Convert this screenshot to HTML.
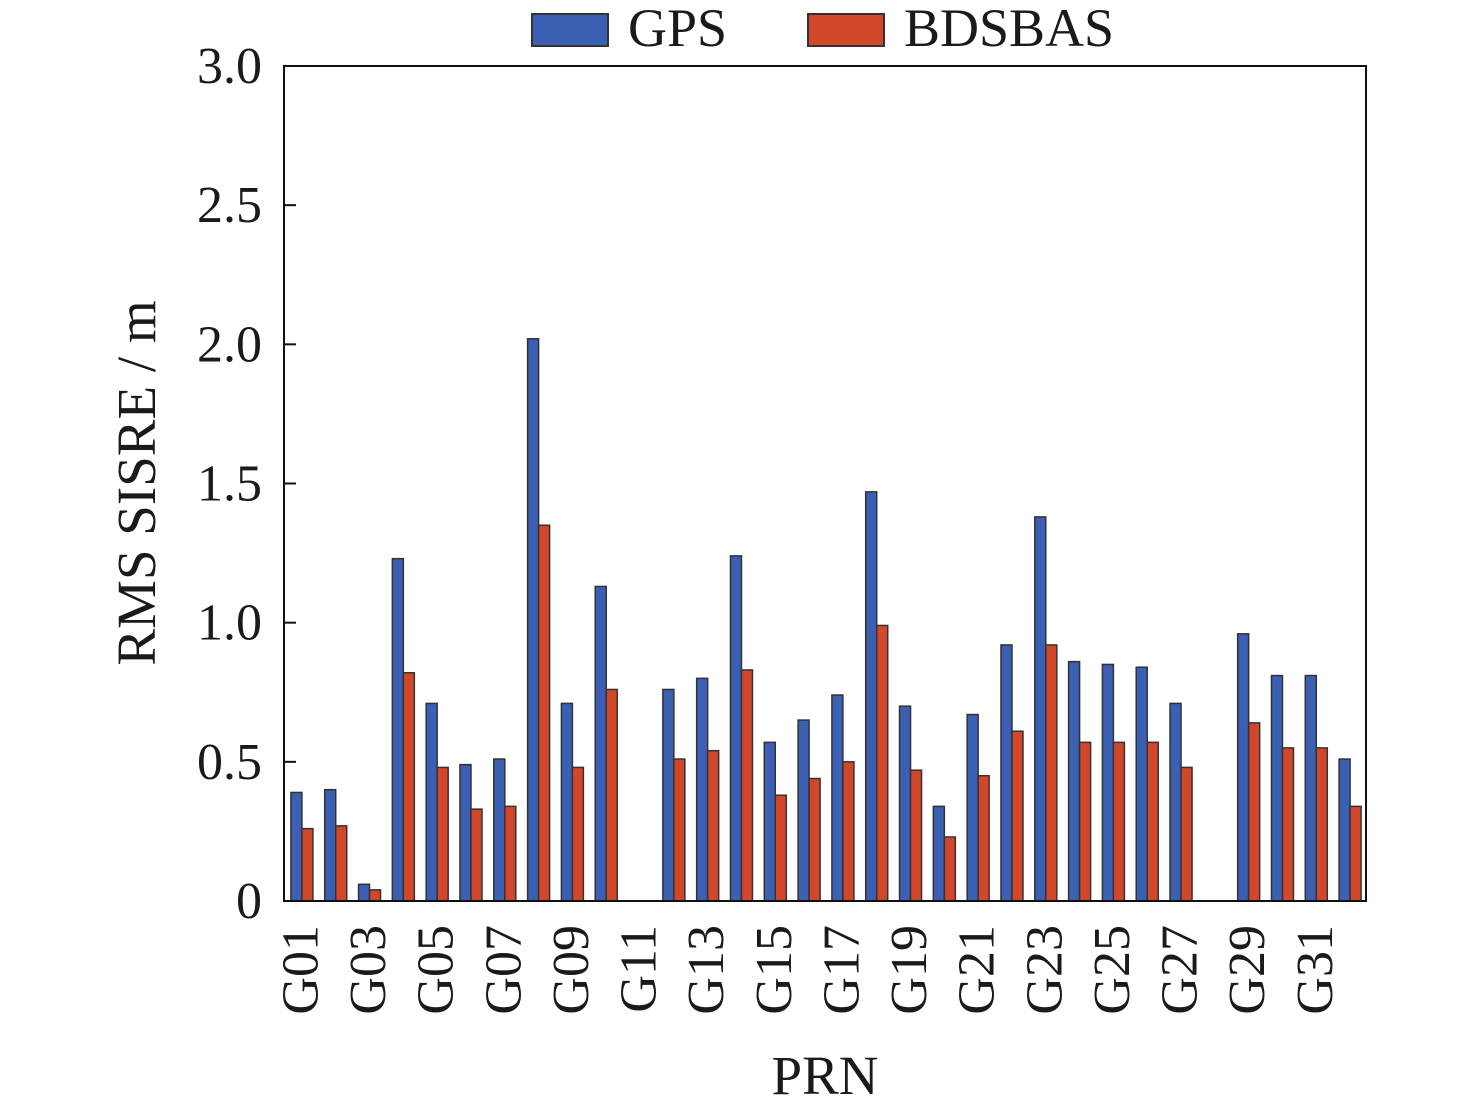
<!DOCTYPE html>
<html><head><meta charset="utf-8"><style>
body{margin:0;background:#fff;}
svg text{font-family:"Liberation Serif",serif;fill:#1a1a1a;}
</style></head><body>
<svg id="chart" width="1476" height="1111">
<g>
<rect x="532" y="14" width="76" height="32" fill="#3a5fb3" stroke="#333" stroke-width="2"/>
<text x="628" y="46" font-size="54">GPS</text>
<rect x="808" y="14" width="76" height="32" fill="#d2472a" stroke="#333" stroke-width="2"/>
<text x="904" y="46" font-size="54">BDSBAS</text>
</g>
<g id="bars"></g>
<g id="axes"></g>
<text x="0" y="0" transform="translate(155,483) rotate(-90)" text-anchor="middle" font-size="55">RMS SISRE / m</text>
<text x="825" y="1094" text-anchor="middle" font-size="55">PRN</text>
</svg>
<script>
const categories=["G01","G02","G03","G04","G05","G06","G07","G08","G09","G10","G11","G12","G13","G14","G15","G16","G17","G18","G19","G20","G21","G22","G23","G24","G25","G26","G27","G28","G29","G30","G31","G32"];
const gpsValues=[0.39,0.40,0.06,1.23,0.71,0.49,0.51,2.02,0.71,1.13,0,0.76,0.80,1.24,0.57,0.65,0.74,1.47,0.70,0.34,0.67,0.92,1.38,0.86,0.85,0.84,0.71,0,0.96,0.81,0.81,0.51];
const bdsbasValues=[0.26,0.27,0.04,0.82,0.48,0.33,0.34,1.35,0.48,0.76,0,0.51,0.54,0.83,0.38,0.44,0.50,0.99,0.47,0.23,0.45,0.61,0.92,0.57,0.57,0.57,0.48,0,0.64,0.55,0.55,0.34];
const yTicks=[0,0.5,1.0,1.5,2.0,2.5,3.0];
const yTickLabels=["0","0.5","1.0","1.5","2.0","2.5","3.0"];
const NS="http://www.w3.org/2000/svg";
const L=284,R=1366,T=66,B=901,yMax=3;
const slot=(R-L)/categories.length;
const y=v=>B-(v/yMax)*(B-T);
const xc=i=>L+slot*(i+0.5)+1.5;
function mk(tag,attrs,parent){const e=document.createElementNS(NS,tag);for(const k in attrs)e.setAttribute(k,attrs[k]);parent.appendChild(e);return e;}
const bars=document.getElementById('bars'),axes=document.getElementById('axes');
const bw=11;
categories.forEach((c,i)=>{
  const g=gpsValues[i],b=bdsbasValues[i];
  if(g>0){const r=mk('rect',{x:xc(i)-bw-0.5,y:y(g),width:bw,height:B-y(g),fill:'#3a5fb3',stroke:'#333','stroke-width':1.5},bars);
    
    }
  if(b>0){const r=mk('rect',{x:xc(i)-0.5,y:y(b),width:bw,height:B-y(b),fill:'#d2472a',stroke:'#333','stroke-width':1.5},bars);
    
    }
  if(i%2===0){const t=mk('text',{transform:`translate(${xc(i)+15},925) rotate(-90)`,'text-anchor':'end','font-size':52},axes);t.textContent=c;
    
    }
});
const frame=mk('rect',{x:L,y:T,width:R-L,height:B-T,fill:'none',stroke:'#111','stroke-width':2},axes);


yTicks.forEach((v,i)=>{
  const tk=mk('line',{x1:L,x2:L+12,y1:y(v),y2:y(v),stroke:'#111','stroke-width':2},axes);
  
  
  const t=mk('text',{x:262,y:y(v)+17,'text-anchor':'end','font-size':52},axes);t.textContent=yTickLabels[i];
  
  
});
</script>
</body></html>
